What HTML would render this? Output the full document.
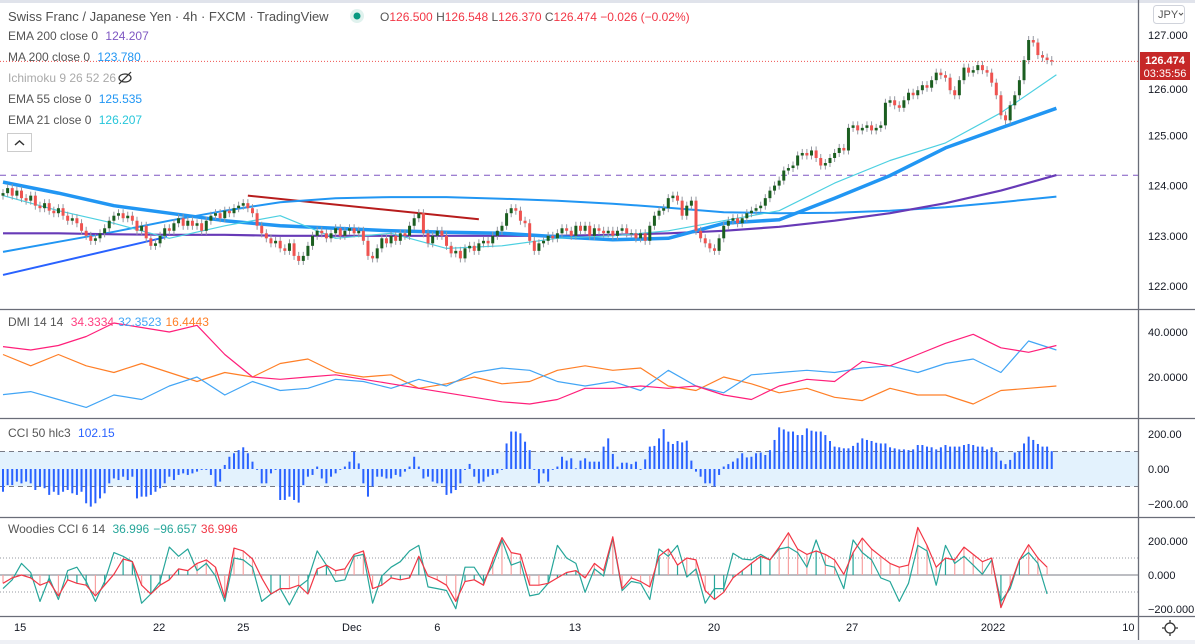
<!DOCTYPE html>
<html><head><meta charset="utf-8"><style>
html,body{margin:0;padding:0;background:#fff;}
svg{display:block;font-family:"Liberation Sans",sans-serif;}
</style></head><body>
<svg id="chart" width="1195" height="644" viewBox="0 0 1195 644" xmlns="http://www.w3.org/2000/svg">
<rect x="0" y="0" width="1195" height="644" fill="#fff"/>
<line x1="0" y1="1.5" x2="1195" y2="1.5" stroke="#e0e3eb" stroke-width="3"/>
<rect x="0" y="640" width="1195" height="4" fill="#eef0f5"/>
<rect x="0" y="451.5" width="1138" height="35" fill="#e3f2fd"/>
<g id="grid"></g>
<g id="marks"></g>
<g id="axes"></g>
<g font-size="12" fill="#555">
<text x="8" y="21" font-size="13" fill="#505050">Swiss Franc / Japanese Yen · 4h · FXCM · TradingView</text>
<circle cx="357" cy="16" r="7" fill="#e0f2ee"/>
<circle cx="357" cy="16" r="3.5" fill="#089981"/>
<text x="380" y="21" font-size="12"><tspan fill="#555">O</tspan><tspan fill="#f23645">126.500 </tspan><tspan fill="#555">H</tspan><tspan fill="#f23645">126.548 </tspan><tspan fill="#555">L</tspan><tspan fill="#f23645">126.370 </tspan><tspan fill="#555">C</tspan><tspan fill="#f23645">126.474 −0.026 (−0.02%)</tspan></text>
<text x="8" y="40">EMA 200 close 0 <tspan fill="#7e57c2" dx="4">124.207</tspan></text>
<text x="8" y="61">MA 200 close 0 <tspan fill="#2196f3" dx="4">123.780</tspan></text>
<text x="8" y="82" fill="#aaa">Ichimoku 9 26 52 26</text>
<g fill="none" stroke="#333" stroke-width="1.2"><ellipse cx="125" cy="78" rx="6" ry="4"/><line x1="119" y1="84" x2="131" y2="72"/></g>
<text x="8" y="103">EMA 55 close 0 <tspan fill="#2196f3" dx="4">125.535</tspan></text>
<text x="8" y="124">EMA 21 close 0 <tspan fill="#26c6da" dx="4">126.207</tspan></text>
<g><rect x="7.5" y="133.5" width="24" height="18" fill="#fff" stroke="#ccc"/><path d="M15 145 L19.5 141 L24 145" fill="none" stroke="#333" stroke-width="1.5"/></g>
<text x="8" y="326">DMI 14 14 <tspan fill="#ff4081" dx="4">34.3334</tspan><tspan fill="#42a5f5" dx="4">32.3523</tspan><tspan fill="#ff7f27" dx="4">16.4443</tspan></text>
<text x="8" y="437">CCI 50 hlc3 <tspan fill="#2962ff" dx="4">102.15</tspan></text>
<text x="8" y="533">Woodies CCI 6 14 <tspan fill="#26a69a" dx="4">36.996</tspan><tspan fill="#26a69a" dx="4">−96.657</tspan><tspan fill="#f23645" dx="4">36.996</tspan></text>
</g>
<g><rect x="1153.5" y="5.5" width="31" height="18" rx="3" fill="#fff" stroke="#d0d3db"/><text x="1158" y="18" font-size="11" fill="#555">JPY</text><path d="M1179 13l2 2 2-2" fill="none" stroke="#555"/></g>
<g><rect x="1140" y="52" width="50" height="28" fill="#c62828"/><text x="1165" y="64" font-size="11" font-weight="bold" fill="#fff" text-anchor="middle">126.474</text><text x="1165" y="77" font-size="11" fill="#fff" text-anchor="middle">03:35:56</text></g>
<g fill="none" stroke="#333" stroke-width="1.3"><circle cx="1170" cy="628" r="5"/><path d="M1170 620v3M1170 633v3M1162 628h3M1175 628h3"/></g>
</svg>
<script>
const closes = [123.85,123.95,123.80,123.90,123.75,123.70,123.80,123.60,123.55,123.65,
123.50,123.45,123.55,123.40,123.30,123.35,123.25,123.10,123.00,122.90,
122.95,123.05,123.15,123.30,123.40,123.45,123.35,123.40,123.30,123.10,
123.20,122.95,122.80,122.85,123.00,123.15,123.10,123.25,123.35,123.20,
123.30,123.20,123.25,123.10,123.30,123.40,123.45,123.35,123.50,123.45,
123.55,123.60,123.65,123.55,123.45,123.20,123.05,122.95,122.85,122.90,
122.75,122.70,122.85,122.60,122.50,122.60,122.80,123.00,123.10,123.05,
122.95,123.05,123.15,123.00,123.10,123.15,123.05,123.10,122.90,122.60,
122.55,122.75,122.95,122.85,123.00,122.90,123.05,123.00,123.20,123.35,
123.45,123.05,122.85,123.00,123.10,123.00,122.80,122.65,122.70,122.55,
122.75,122.80,122.70,122.85,122.90,122.85,123.00,123.10,123.20,123.45,
123.55,123.50,123.30,123.25,122.90,122.70,122.85,122.90,123.00,122.95,
123.05,123.15,123.10,123.00,123.20,123.10,123.20,123.00,123.15,123.10,
123.05,123.10,123.00,123.10,123.15,123.05,123.05,122.95,123.05,122.90,
123.20,123.40,123.50,123.55,123.75,123.80,123.70,123.40,123.60,123.70,
123.10,122.95,122.85,122.75,122.70,122.95,123.20,123.30,123.35,123.25,
123.35,123.45,123.50,123.55,123.60,123.75,123.90,124.00,124.10,124.30,
124.35,124.40,124.60,124.65,124.60,124.70,124.55,124.40,124.45,124.55,
124.65,124.75,124.70,125.15,125.20,125.10,125.15,125.20,125.10,125.15,
125.20,125.65,125.70,125.60,125.55,125.70,125.85,125.80,125.90,126.00,
125.95,126.10,126.25,126.20,126.15,125.90,125.80,126.10,126.35,126.25,
126.30,126.40,126.30,126.25,126.05,125.80,125.40,125.30,125.60,125.80,
126.10,126.50,126.90,126.85,126.60,126.55,126.50,126.474];
const ema200 = [123.05,123.05,123.03,123.02,123.02,123.0,123.0,123.0,123.0,123.0,123.0,123.02,123.05,123.1,123.18,123.3,123.45,123.65,123.9,124.21];
const ma200 = [122.68,122.88,123.08,123.3,123.5,123.67,123.75,123.77,123.77,123.74,123.7,123.64,123.56,123.47,123.45,123.46,123.5,123.57,123.67,123.78];
const ema55 = [124.07,123.85,123.6,123.45,123.3,123.2,123.15,123.1,123.07,123.05,122.98,122.92,122.95,123.25,123.32,123.75,124.2,124.75,125.15,125.54];
const ema21 = [123.8,123.5,123.25,122.95,123.2,123.4,122.95,123.05,122.75,122.8,122.95,123.0,123.1,123.3,123.5,124.05,124.5,124.85,125.45,126.21];
const hline = 124.207;
const lastPrice = 126.474;
const dmiPlus = [33.5,32,34,38,44,42,40,43,30,20,19,20,21,19,17,15,13,11,9,8,10,15,15,16,15,16,12,10,16,19,18,27,25,30,35,39,33,31,34];
const dmiBlue = [12.2,13.5,10,6.5,12,10,16,20,12,18,14,15,19,18,15,19,16,22,24,23,18,16,18,14,23,16,13,21,22,23,22,24,25,22,26,28,22,36,32];
const dmiOrange = [30,25,30,25,22,26,22,18,22,20,26,28,22,20,21,15,17,20,17,18,23,25,23,24,16,14,20,17,13,15,11,9.5,15,12,12,8,14,15,16];
const cci = [-130,-92,-92,-72,-82,-72,-82,-120,-100,-110,
-148,-130,-148,-130,-120,-139,-148,-130,-196,-215,
-196,-168,-139,-82,-54,-63,-44,-63,-44,-168,
-158,-158,-148,-130,-110,-82,-44,-63,-34,-25,
-34,-25,-15,-5,-5,-34,-100,-72,23,70,
90,108,124,90,42,-5,-82,-82,-25,-5,
-177,-177,-158,-177,-192,-92,-44,-34,14,-54,
-82,-44,-25,-5,14,42,99,32,-82,-158,
-100,-44,-44,-54,-54,-34,-44,-15,14,70,
14,-54,-44,-72,-82,-82,-148,-139,-120,-82,
-5,29,-44,-82,-72,-44,-34,-25,-5,146,
214,214,204,156,108,-5,-82,-25,-72,-5,14,
70,48,61,4,48,61,42,42,42,
128,175,86,14,36,36,28,42,-5,55,
128,132,175,228,156,143,160,152,162,48,
-15,-44,-82,-82,-100,-34,14,28,42,61,
90,66,70,90,94,80,108,166,238,226,
214,214,194,194,232,219,214,214,194,160,
128,124,118,118,132,150,175,166,160,150,
146,146,124,118,112,112,108,112,137,137,
128,124,112,124,137,128,128,128,137,143,
137,128,128,112,124,99,48,28,52,94,
99,146,185,166,143,128,128,102];
const woodTurbo = [-49,-17,0,-17,-60,-38,-123,-28,-49,-60,-123,-60,4,94,78,-60,-112,-60,-28,36,26,68,89,46,-134,158,142,94,-17,-112,-80,-80,-60,-112,36,58,26,36,121,142,-80,-60,-17,-28,-17,110,-6,-28,-60,-155,-38,-28,-60,89,220,132,121,-60,-60,-49,-17,
15,26,-17,68,26,225,-80,-17,-38,-70,110,153,58,100,89,-92,-144,-102,-17,26,68,110,89,164,248,153,121,142,121,89,4,132,217,153,110,68,46,58,280,174,46,100,89,164,121,78,100,-192,-60,89,178,100,46];
const woodCci = [-80,-28,68,15,-155,-17,-144,26,46,-38,-155,-38,132,110,78,-166,-112,-38,164,110,153,26,68,-6,-155,100,89,46,-155,-112,-80,-176,-70,-28,142,58,-38,-28,110,121,-166,-6,46,78,142,174,-70,-80,-91,-198,46,46,-38,58,206,58,78,-123,-112,-49,174,
100,68,-102,36,-6,217,-92,-38,-49,-144,153,110,174,-12,36,-166,-80,-80,128,94,89,121,89,153,164,132,46,206,58,46,-80,206,132,89,-17,-38,-155,-49,174,142,-60,174,68,110,58,4,89,-155,-80,89,132,68,-112];
const priceTicks = [127,126,125,124,123,122];
const dmiTicks = [40,20];
const cciTicks = [200,0,-200];
const woodTicks = [200,0,-200];
const timeLabels = ["15","22","25","Dec","6","13","20","27","2022","10"];
const timeBars = [3.7,33.8,52,75.5,94,123.8,153.9,183.8,214.3,243.6];
const trendBlue = [[0,122.22],[35.5,122.98]];
const trendRed = [[53,123.8],[103,123.33]];

const NS='http://www.w3.org/2000/svg';
const xb = i => 3 + i*4.62;
const yP = p => 35 + (127-p)*50.2;
const yD = v => 377 + (20-v)*2.25;
const yC = v => 469 - v*0.175;
const yW = v => 575 - v*0.17;
const marks = document.getElementById('marks');
const axes = document.getElementById('axes');
const grid = document.getElementById('grid');
function mk(tag, attrs, parent){const e=document.createElementNS(NS,tag);for(const k in attrs)e.setAttribute(k,attrs[k]);(parent||marks).appendChild(e);return e;}
function poly(vals, step, yf, color, w, name){
  const pts = vals.map((v,k)=>xb(k*step).toFixed(1)+','+yf(v).toFixed(1)).join(' ');
  const e = mk('polyline',{points:pts,fill:'none',stroke:color,'stroke-width':w,'stroke-linejoin':'round'});
  
  
  return e;
}

[309,418,517,616].forEach(y=>{const l=mk('line',{x1:0,y1:y+0.5,x2:1195,y2:y+0.5,stroke:'#6a6d78','stroke-width':1.3},grid);

});
const ax=mk('line',{x1:1138.5,y1:0,x2:1138.5,y2:640,stroke:'#6a6d78','stroke-width':1.3},grid);



[100,-100].forEach(v=>{const l=mk('line',{x1:0,y1:yC(v),x2:1138,y2:yC(v),stroke:'#787b86','stroke-dasharray':'5,4'},grid);

});
[100,-100].forEach(v=>{const l=mk('line',{x1:0,y1:yW(v),x2:1138,y2:yW(v),stroke:'#9598a1','stroke-dasharray':'1,2'},grid);

});
const z=mk('line',{x1:0,y1:yW(0),x2:1138,y2:yW(0),stroke:'#787b86'},grid);



const hl=mk('line',{x1:0,y1:yP(hline),x2:1138,y2:yP(hline),stroke:'#7e57c2','stroke-dasharray':'6,5'});


const lp=mk('line',{x1:0,y1:yP(lastPrice),x2:1138,y2:yP(lastPrice),stroke:'#ef5350','stroke-dasharray':'1,2'});



const tb=mk('line',{x1:xb(trendBlue[0][0]),y1:yP(trendBlue[0][1]),x2:xb(trendBlue[1][0]),y2:yP(trendBlue[1][1]),stroke:'#2962ff','stroke-width':2});


const tr=mk('line',{x1:xb(trendRed[0][0]),y1:yP(trendRed[0][1]),x2:xb(trendRed[1][0]),y2:yP(trendRed[1][1]),stroke:'#b71c1c','stroke-width':2});



poly(ma200,12,yP,'#2196f3',2,'ma200-line');
poly(ema200,12,yP,'#673ab7',2.2,'ema200-line');
poly(ema55,12,yP,'#2196f3',3.5,'ema55-line');
poly(ema21,12,yP,'#4dd0e1',1.2,'ema21-line');

closes.forEach((c,i)=>{
  const o = i===0 ? 123.8 : closes[i-1];
  const hi = Math.max(o,c)+0.08, lo = Math.min(o,c)-0.08;
  const x = xb(i), up = c>=o;
  const col = up ? '#1b5e20' : '#ef5350';
  const w = mk('line',{x1:x,y1:yP(hi),x2:x,y2:yP(lo),stroke:'#9598a1','stroke-width':1});
  
  
  const top = yP(Math.max(o,c)), h = Math.max(1, yP(Math.min(o,c))-top);
  const b = mk('rect',{x:x-1.5,y:top,width:3,height:h,fill:col});
  
  
});

poly(dmiOrange,6,yD,'#ff7f27',1.2,'dmi-orange-line');
poly(dmiBlue,6,yD,'#42a5f5',1.2,'dmi-blue-line');
poly(dmiPlus,6,yD,'#ff1f7a',1.2,'dmi-pink-line');

cci.forEach((v,i)=>{
  const y0=yC(0), y1=yC(v);
  const r=mk('rect',{x:xb(i)-1,y:Math.min(y0,y1),width:2,height:Math.max(0.8,Math.abs(y1-y0)),fill:'#2962ff'});
  
  
});

woodTurbo.forEach((v,k)=>{
  const y0=yW(0), y1=yW(v);
  const col = v > woodCci[k] ? '#f7a1a1' : '#26a69a';
  const r=mk('rect',{x:xb(2*k)-0.6,y:Math.min(y0,y1),width:1.2,height:Math.max(0.5,Math.abs(y1-y0)),fill:col});
  
  
});
poly(woodCci,2,yW,'#26a69a',1.2,'woodies-cci-line');
poly(woodTurbo,2,yW,'#f23645',1.2,'woodies-turbo-line');

function label(txt,x,y,name,anchor){const t=mk('text',{x:x,y:y,'font-size':11,fill:'#131722','text-anchor':anchor||'start'},axes);t.textContent=txt;

return t;}
priceTicks.forEach(p=>{ if(p===126) return; label(p.toFixed(3),1148,yP(p)+4,'price-tick-label');});
label('126.000',1148,yP(126)+8,'price-tick-label');
dmiTicks.forEach(v=>label(v.toFixed(4),1148,yD(v)+4,'dmi-tick-label'));
cciTicks.forEach(v=>label(v.toFixed(2).replace('-','−'),1148,yC(v)+4,'cci-tick-label'));
woodTicks.forEach(v=>label(v.toFixed(3).replace('-','−'),1148,yW(v)+4,'woodies-tick-label'));
timeLabels.forEach((t,i)=>label(t,xb(timeBars[i]),631,'time-tick-label','middle'));
</script>
</body></html>
